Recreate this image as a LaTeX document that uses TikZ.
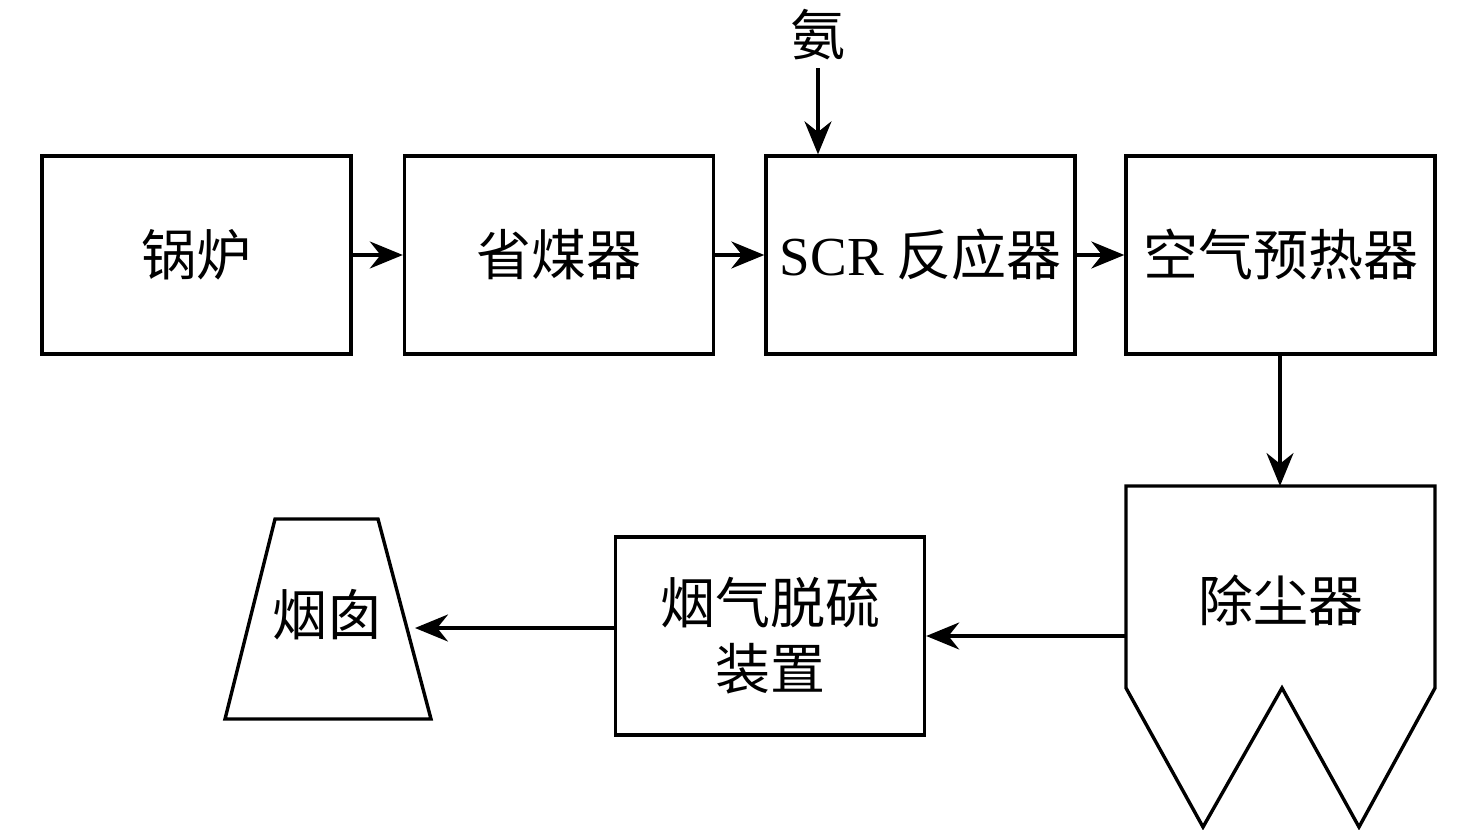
\documentclass[tikz,border=0pt]{standalone}
\usepackage{fontspec}
\setmainfont{Liberation Serif}
\newfontfamily\cjk{Noto Sans CJK SC}
\usetikzlibrary{arrows.meta}
\begin{document}
\begin{tikzpicture}[x=1pt,y=-1pt,
  blk/.style={draw,line width=3.4pt,minimum width=309pt,minimum height=198pt,inner sep=0pt},
  lbl/.style={font=\fontsize{55}{66}\selectfont\cjk,align=center,inner sep=0pt},
  flow/.style={line width=3.2pt,-{Stealth[length=33pt,width=27pt]}}]
\useasboundingbox (0,0) rectangle (1476,830);
\node[blk,lbl] (boiler) at (196.5,255) {锅炉};
\node[blk,lbl] (econ) at (559,255) {省煤器};
\node[blk,lbl] (scr) at (920.5,255) {{\rmfamily SCR} 反应器};
\node[blk,lbl] (aph) at (1280.5,255) {空气预热器};
\node[blk,lbl] (fgd) at (770,636) {烟气脱硫\\装置};
\node[lbl] (nh3) at (818,35) {氨};
\coordinate (nh3end) at (818,68);
% dust collector
\draw[line width=3.4pt,line join=miter] (1126,486) -- (1435,486) -- (1435,688) -- (1359,827) -- (1282,688) -- (1203,827) -- (1126,688) -- cycle;
\node[lbl] (dust) at (1280.5,600) {除尘器};
\coordinate (dusttop) at (1280,486);
\coordinate (dustleft) at (1126,636);
% chimney
\draw[line width=3.4pt,line join=miter] (275,519) -- (378,519) -- (431,719) -- (225,719) -- cycle;
\node[lbl] (chim) at (327,615) {烟囱};
\coordinate (chimin) at (415,628);
% connectors
\draw[flow] (boiler.east) -- (econ.west);
\draw[flow] (econ.east) -- (scr.west);
\draw[flow] (scr.east) -- (aph.west);
\draw[flow] (nh3end) -- (scr.north west -| nh3end);
\draw[flow] (aph.south -| dusttop) -- (dusttop);
\draw[flow] (dustleft) -- (fgd.east |- dustleft);
\draw[flow] (fgd.west |- chimin) -- (chimin);
\end{tikzpicture}
\end{document}
